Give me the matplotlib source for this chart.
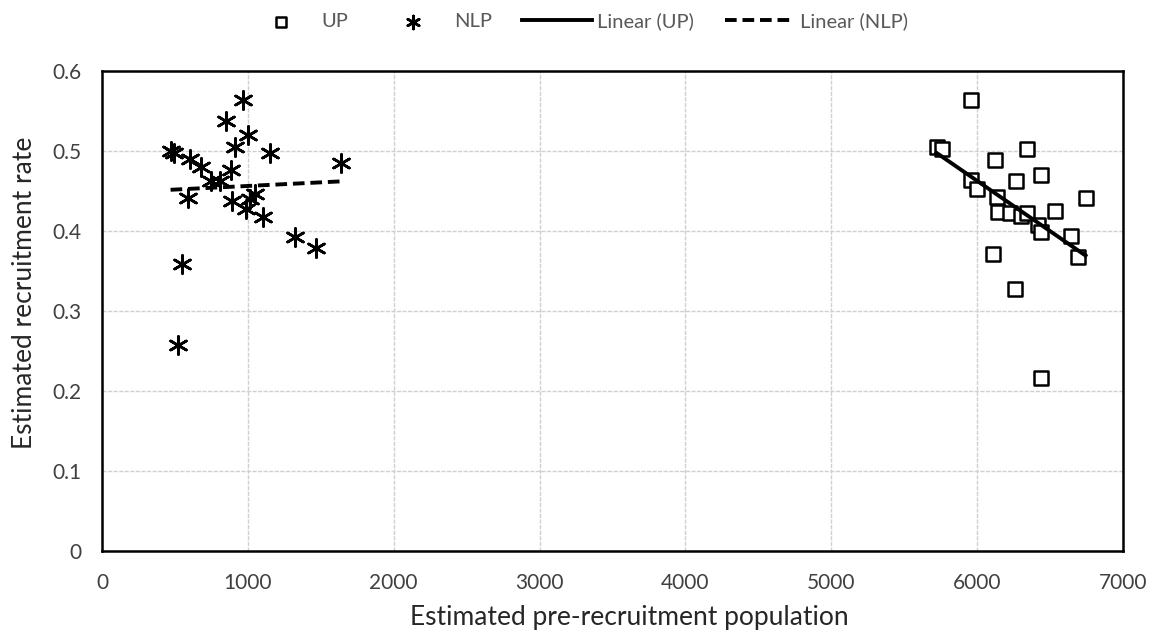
import numpy as np
import matplotlib
matplotlib.use("Agg")
import matplotlib.pyplot as plt

plt.rcParams['font.family'] = ['Lato', 'DejaVu Sans']

# NLP series
nlp_x = [966, 847, 1000, 909, 470, 495, 1149, 600, 676, 1636, 886, 750, 810,
         589, 893, 1046, 1012, 984, 1103, 1320, 1464, 550, 520]
nlp_y = [0.564, 0.538, 0.520, 0.505, 0.500, 0.497, 0.498, 0.490, 0.480, 0.485,
         0.476, 0.462, 0.462, 0.441, 0.437, 0.446, 0.440, 0.428, 0.417, 0.392,
         0.379, 0.359, 0.258]

# UP series
up_x = [5955, 5722, 5756, 6343, 6121, 6435, 6265, 5961, 5996, 6743, 6133,
        6145, 6224, 6304, 6339, 6535, 6418, 6441, 6643, 6693, 6110, 6259, 6441]
up_y = [0.564, 0.505, 0.503, 0.502, 0.489, 0.470, 0.463, 0.464, 0.453, 0.441,
        0.442, 0.424, 0.422, 0.419, 0.422, 0.425, 0.408, 0.399, 0.394, 0.367,
        0.371, 0.327, 0.216]

x_ticks = [0, 1000, 2000, 3000, 4000, 5000, 6000, 7000]
y_ticks = [0, 0.1, 0.2, 0.3, 0.4, 0.5, 0.6]
y_tick_labels = ['0', '0.1', '0.2', '0.3', '0.4', '0.5', '0.6']

fig = plt.figure(figsize=(11.56, 6.44), dpi=100)
ax = fig.add_axes([102/1156, 1 - 551/644, (1123 - 102)/1156, (551 - 71)/644])

ax.scatter(up_x, up_y, marker='s', s=100, facecolors='white', edgecolors='black',
           linewidths=1.8, label='UP', zorder=3)
ax.scatter(nlp_x, nlp_y, marker=(6, 2, 0), s=170, color='black',
           linewidths=1.9, label='NLP', zorder=3)

# Linear trend lines
pu = np.polyfit(up_x, up_y, 1)
xu = np.array([min(up_x), max(up_x)])
ax.plot(xu, np.polyval(pu, xu), color='black', lw=2.8, label='Linear (UP)', zorder=4)
pn = np.polyfit(nlp_x, nlp_y, 1)
xn = np.array([min(nlp_x), max(nlp_x)])
ax.plot(xn, np.polyval(pn, xn), color='black', lw=2.8, ls=(0, (3, 1.5)),
        label='Linear (NLP)', zorder=4)

ax.set_xlim(0, 7000)
ax.set_ylim(0, 0.6)
ax.set_xticks(x_ticks)
ax.set_yticks(y_ticks)
ax.set_yticklabels(y_tick_labels)
ax.tick_params(length=0, labelsize=15, colors='#404040')
ax.tick_params(axis='x', pad=16)
ax.tick_params(axis='y', pad=15)
ax.grid(True, color='#d0d0d0', lw=1.0, ls=(0, (3, 1)))
ax.set_axisbelow(True)
for s in ax.spines.values():
    s.set_color('black')
    s.set_linewidth(1.8)

ax.set_xlabel('Estimated pre-recruitment population', fontsize=19, color='#262626')
ax.set_ylabel('Estimated recruitment rate', fontsize=19, color='#262626')
ax.xaxis.set_label_coords(0.516, -66/480, transform=ax.transAxes)
ax.yaxis.set_label_coords(-77/1021, 0.5375, transform=ax.transAxes)
ax.xaxis.label.set_va('center')
ax.yaxis.label.set_va('center')

leg = fig.legend(loc='center', bbox_to_anchor=(0.499, 1 - 21/644), ncol=4, frameon=False,
                 fontsize=14.5, handlelength=3.5, columnspacing=1.5, handletextpad=0.25,
                 markerscale=0.72)
for t in leg.get_texts():
    t.set_color('#595959')

fig.savefig('out.png', dpi=100)
